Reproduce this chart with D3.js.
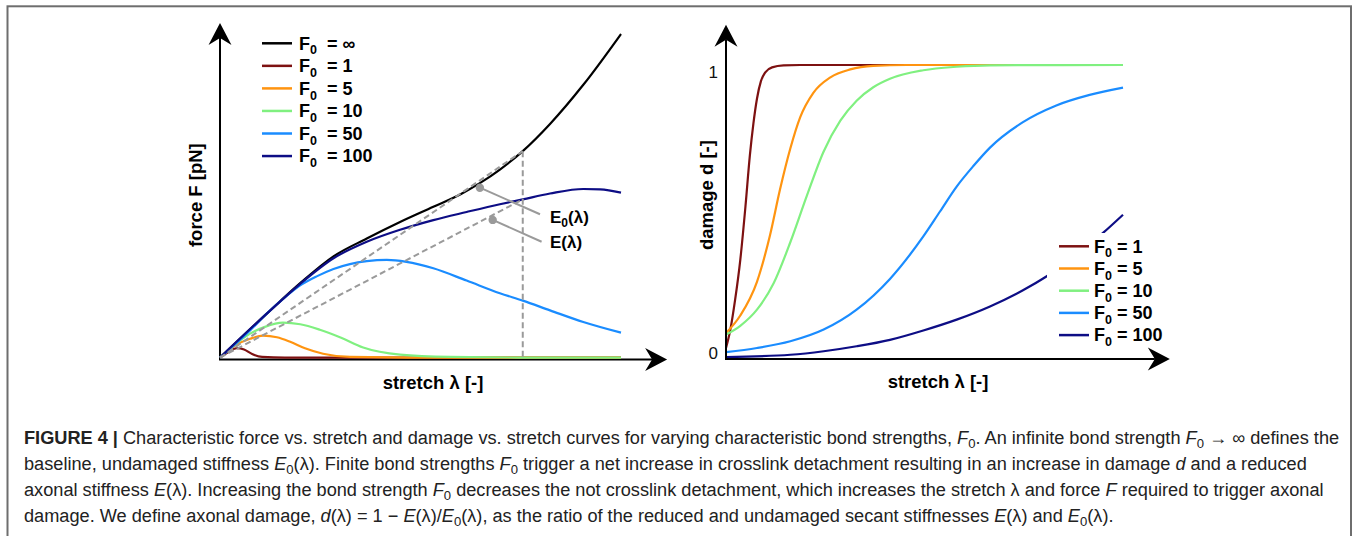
<!DOCTYPE html>
<html>
<head>
<meta charset="utf-8">
<script src="https://cdn.jsdelivr.net/npm/d3@7"></script>
<style>
  body { margin: 0; background: #fff; }
  svg { display: block; font-family: "Liberation Sans", Arial, Helvetica, sans-serif; }
</style>
</head>
<body>
<div id="figure"></div>
<script>
// ---- values (stretch and force normalised to 0..1) ----
const seriesLabels = ["∞", "1", "5", "10", "50", "100"];
const seriesColors = ["#000000", "#7d1111", "#ff9410", "#80f080", "#1a8cff", "#0d0d85"];

// force F vs stretch, [stretch, force]
const forceInf = [[0,0],[0.116,0.135],[0.2,0.23],[0.283,0.313],[0.366,0.368],[0.449,0.419],
                  [0.532,0.466],[0.6,0.505],[0.648,0.539],[0.698,0.581],[0.755,0.638],
                  [0.823,0.722],[0.906,0.843],[1,1]];
const force1   = [[0,0],[0.022,0.018],[0.042,0.029],[0.06,0.025],[0.08,0.011],[0.105,0.002],
                  [0.162,0],[1,0]];
const force5   = [[0,0],[0.037,0.037],[0.075,0.058],[0.107,0.068],[0.142,0.063],[0.175,0.049],
                  [0.212,0.029],[0.257,0.012],[0.324,0.002],[0.499,0],[1,0]];
const force10  = [[0,0],[0.037,0.04],[0.075,0.074],[0.112,0.095],[0.157,0.108],[0.2,0.103],
                  [0.249,0.086],[0.299,0.063],[0.357,0.031],[0.449,0.009],[0.574,0.002],
                  [0.748,0],[1,0]];
const force50  = [[0,0],[0.075,0.084],[0.116,0.135],[0.158,0.182],[0.2,0.223],[0.241,0.251],
                  [0.283,0.274],[0.324,0.289],[0.366,0.298],[0.416,0.302],[0.465,0.296],
                  [0.532,0.276],[0.615,0.238],[0.698,0.199],[0.755,0.176],[0.823,0.146],
                  [0.906,0.11],[1,0.077]];
const force100 = [[0,0],[0.116,0.135],[0.2,0.228],[0.283,0.307],[0.366,0.358],[0.449,0.395],
                  [0.532,0.425],[0.615,0.45],[0.698,0.474],[0.755,0.489],[0.823,0.507],
                  [0.906,0.521],[0.948,0.52],[1,0.51]];

// secant stiffnesses at one stretch
const secantStretch = 0.755;
const secantE0 = 0.638;
const secantE = 0.489;
const secantNotes = [
  {name: "E", sub: "0", dot: [0.648, 0.525], end: [0.798, 0.443], label: [0.823, 0.415]},
  {name: "E", sub: "",  dot: [0.68, 0.4255], end: [0.802, 0.358], label: [0.823, 0.338]}
];

// damage d vs stretch, [stretch, damage]
const damage1   = [[0,0.034],[0.011,0.097],[0.023,0.199],[0.036,0.335],[0.049,0.517],[0.06,0.69],
                   [0.069,0.8],[0.078,0.885],[0.088,0.945],[0.099,0.975],[0.116,0.992],
                   [0.145,0.999],[0.187,1],[1,1]];
const damage5   = [[0,0.085],[0.036,0.145],[0.078,0.26],[0.111,0.42],[0.136,0.575],[0.162,0.715],
                   [0.187,0.822],[0.22,0.905],[0.263,0.958],[0.313,0.985],[0.371,0.997],[0.455,1],[1,1]];
const damage10  = [[0,0.08],[0.036,0.11],[0.078,0.165],[0.12,0.255],[0.162,0.395],[0.204,0.555],
                   [0.246,0.705],[0.288,0.81],[0.329,0.878],[0.371,0.924],[0.413,0.953],
                   [0.497,0.982],[0.581,0.994],[0.665,0.999],[1,1]];
const damage50  = [[0,0.02],[0.078,0.034],[0.162,0.057],[0.246,0.097],[0.329,0.165],[0.413,0.27],
                   [0.497,0.415],[0.539,0.5],[0.581,0.585],[0.623,0.655],[0.665,0.718],
                   [0.748,0.805],[0.832,0.862],[0.916,0.898],[1,0.923]];
const damage100 = [[0,0.003],[0.162,0.011],[0.246,0.023],[0.329,0.04],[0.413,0.062],[0.497,0.094],
                   [0.581,0.131],[0.665,0.176],[0.748,0.231],[0.807,0.278],[0.949,0.426],[1,0.489]];
const damageTicks = [0, 1];

// caption, one array per printed line: [text, style]  b = bold, i = italic, s = subscript
const captionLines = [
  [["FIGURE 4 | ", "b"], ["Characteristic force vs. stretch and damage vs. stretch curves for varying characteristic bond strengths, ", ""],
   ["F", "i"], ["0", "s"], [". An infinite bond strength ", ""], ["F", "i"], ["0", "s"], [" → ∞ defines the", ""]],
  [["baseline, undamaged stiffness ", ""], ["E", "i"], ["0", "s"], ["(λ). Finite bond strengths ", ""], ["F", "i"], ["0", "s"],
   [" trigger a net increase in crosslink detachment resulting in an increase in damage ", ""], ["d", "i"], [" and a reduced", ""]],
  [["axonal stiffness ", ""], ["E", "i"], ["(λ). Increasing the bond strength ", ""], ["F", "i"], ["0", "s"],
   [" decreases the not crosslink detachment, which increases the stretch λ and force ", ""], ["F", "i"], [" required to trigger axonal", ""]],
  [["damage. We define axonal damage, ", ""], ["d", "i"], ["(λ) = 1 − ", ""], ["E", "i"], ["(λ)/", ""], ["E", "i"], ["0", "s"],
   ["(λ), as the ratio of the reduced and undamaged secant stiffnesses ", ""], ["E", "i"], ["(λ) and ", ""], ["E", "i"], ["0", "s"], ["(λ).", ""]]
];

// ---- drawing ----
const W = 1360, H = 536;
const svg = d3.select("#figure").append("svg")
              .attr("width", W)
              .attr("height", H);

// figure frame (runs off the bottom edge)
svg.append("rect")
   .attr("x", 7.5).attr("y", 6.3)
   .attr("width", 1343.5).attr("height", 560)
   .attr("fill", "none")
   .attr("stroke", "#6e6e6e")
   .attr("stroke-width", 2);

function arrowAxis(g, x1, y1, x2, y2) {
    const ang = Math.atan2(y2 - y1, x2 - x1);
    const ux = Math.cos(ang), uy = Math.sin(ang);
    const len = 22, half = 11.5, notch = 15;
    g.append("line")
     .attr("x1", x1).attr("y1", y1)
     .attr("x2", x2 - ux * notch).attr("y2", y2 - uy * notch)
     .attr("stroke", "black").attr("stroke-width", 2);
    const bx = x2 - ux * len, by = y2 - uy * len;
    const p = d3.path();
    p.moveTo(x2, y2);
    p.lineTo(bx - uy * half, by + ux * half);
    p.lineTo(x2 - ux * notch, y2 - uy * notch);
    p.lineTo(bx + uy * half, by - ux * half);
    p.closePath();
    g.append("path").attr("d", p.toString()).attr("fill", "black");
}

function addF0(text, value, gap) {
    text.append("tspan").text("F");
    text.append("tspan").attr("font-size", 12.5).attr("dy", 5).text("0");
    text.append("tspan").attr("dy", -5).text(gap + "= " + value);
}

// ---------- left: force vs stretch ----------
const xL = d3.scaleLinear().domain([0, 1]).range([220, 621]);
const yL = d3.scaleLinear().domain([0, 1]).range([357.6, 34]);
const axisYL = 359.4;
const left = svg.append("g");

const forceSeries = [forceInf, force1, force5, force10, force50, force100];

arrowAxis(left, xL(0), axisYL, xL(0), yL(1.034));
arrowAxis(left, xL(0) - 1, axisYL, xL(1.115), axisYL);

const lineL = d3.line()
                .x(d => xL(d[0]))
                .y(d => yL(d[1]))
                .curve(d3.curveMonotoneX);

forceSeries.forEach((s, i) => {
    left.append("path")
        .datum(s)
        .attr("fill", "none")
        .attr("stroke", seriesColors[i])
        .attr("stroke-width", 2.2)
        .attr("d", lineL);
});

// secants and vertical guide
const dash = "6,3.5";
[secantE0, secantE].forEach(v => {
    left.append("line")
        .attr("x1", xL(0)).attr("y1", yL(0))
        .attr("x2", xL(secantStretch)).attr("y2", yL(v))
        .attr("stroke", "#9a9a9a").attr("stroke-width", 2)
        .attr("stroke-dasharray", dash);
});
left.append("line")
    .attr("x1", xL(secantStretch)).attr("y1", yL(secantE0))
    .attr("x2", xL(secantStretch)).attr("y2", axisYL)
    .attr("stroke", "#9a9a9a").attr("stroke-width", 2)
    .attr("stroke-dasharray", dash);

secantNotes.forEach(n => {
    left.append("line")
        .attr("x1", xL(n.dot[0])).attr("y1", yL(n.dot[1]))
        .attr("x2", xL(n.end[0])).attr("y2", yL(n.end[1]))
        .attr("stroke", "#9a9a9a").attr("stroke-width", 2);
    left.append("circle")
        .attr("cx", xL(n.dot[0])).attr("cy", yL(n.dot[1]))
        .attr("r", 4.2)
        .attr("fill", "#9a9a9a");
    const t = left.append("text")
                  .attr("x", xL(n.label[0])).attr("y", yL(n.label[1]))
                  .attr("font-size", 17).attr("font-weight", "bold");
    t.append("tspan").text(n.name);
    if (n.sub) {
        t.append("tspan").attr("font-size", 12).attr("dy", 4).text(n.sub);
        t.append("tspan").attr("dy", -4).text("(λ)");
    } else {
        t.append("tspan").text("(λ)");
    }
});

left.append("text")
    .attr("transform", `translate(202,${yL(0.502)}) rotate(-90)`)
    .attr("text-anchor", "middle")
    .attr("font-size", 18.5).attr("font-weight", "bold")
    .text("force F [pN]");

left.append("text")
    .attr("x", 433).attr("y", 389)
    .attr("text-anchor", "middle")
    .attr("font-size", 18.5).attr("font-weight", "bold")
    .text("stretch λ [-]");

// legend
const legendL = left.append("g").attr("transform", "translate(262,43.3)");
seriesLabels.forEach((lab, i) => {
    legendL.append("line")
           .attr("x1", 0).attr("x2", 30)
           .attr("y1", i * 22.55).attr("y2", i * 22.55)
           .attr("stroke", seriesColors[i]).attr("stroke-width", 2.5);
    const t = legendL.append("text")
                     .attr("x", 37).attr("y", i * 22.55 + 6.2)
                     .attr("font-size", 18).attr("font-weight", "bold")
                     .style("white-space", "pre");
    addF0(t, lab, "  ");
});

// ---------- right: damage vs stretch ----------
const xR = d3.scaleLinear().domain([0, 1]).range([726, 1123]);
const yR = d3.scaleLinear().domain([0, 1]).range([358, 65]);
const right = svg.append("g");

const damageSeries = [damage1, damage5, damage10, damage50, damage100];

const lineR = d3.line()
                .x(d => xR(d[0]))
                .y(d => yR(d[1]))
                .curve(d3.curveMonotoneX);

damageSeries.forEach((s, i) => {
    right.append("path")
         .datum(s)
         .attr("fill", "none")
         .attr("stroke", seriesColors[i + 1])
         .attr("stroke-width", 2.2)
         .attr("d", lineR);
});

arrowAxis(right, xR(0), yR(0) + 1, xR(0), yR(1.137));
arrowAxis(right, xR(0) - 1, yR(0) + 1, xR(1.118), yR(0) + 1);

const yAxisR = right.append("g")
                    .attr("transform", `translate(${xR(0)},0)`)
                    .call(d3.axisLeft(yR).tickValues(damageTicks).tickSize(0).tickPadding(8).tickFormat(d3.format("d")));
yAxisR.select(".domain").remove();
yAxisR.selectAll("text")
      .attr("font-family", "Liberation Sans, Arial, sans-serif")
      .attr("font-size", 17)
      .attr("fill", "#111")
      .attr("dy", d => d === 1 ? "0.72em" : "0.05em");

right.append("text")
     .attr("transform", `translate(713,${yR(0.556)}) rotate(-90)`)
     .attr("text-anchor", "middle")
     .attr("font-size", 18.5).attr("font-weight", "bold")
     .text("damage d [-]");

right.append("text")
     .attr("x", 938).attr("y", 388)
     .attr("text-anchor", "middle")
     .attr("font-size", 18.5).attr("font-weight", "bold")
     .text("stretch λ [-]");

// legend with white backing (hides the F0 = 100 curve behind it)
right.append("rect")
     .attr("x", 1047).attr("y", 233)
     .attr("width", 130).attr("height", 112)
     .attr("fill", "white");
const legendR = right.append("g").attr("transform", "translate(1059,246.3)");
seriesLabels.slice(1).forEach((lab, i) => {
    legendR.append("line")
           .attr("x1", 0).attr("x2", 30)
           .attr("y1", i * 22.2).attr("y2", i * 22.2)
           .attr("stroke", seriesColors[i + 1]).attr("stroke-width", 2.5);
    const t = legendR.append("text")
                     .attr("x", 35).attr("y", i * 22.2 + 6.2)
                     .attr("font-size", 18).attr("font-weight", "bold")
                     .style("white-space", "pre");
    addF0(t, lab, " ");
});

// ---------- caption ----------
// all lines share one horizontal squeeze, set so the first line ends at the frame's inner edge
const capStart = 24, capEnd = 1340, capTop = 444, capStep = 26;
const capGroups = captionLines.map((segs, li) => {
    const g = svg.append("g");
    const t = g.append("text")
               .attr("x", 0).attr("y", 0)
               .attr("font-size", 18)
               .attr("fill", "#222")
               .style("white-space", "pre");
    let shifted = false;
    segs.forEach(([txt, st]) => {
        const sp = t.append("tspan").text(txt);
        if (st === "b") sp.attr("font-weight", "bold");
        if (st === "i") sp.attr("font-style", "italic");
        if (st === "s") {
            sp.attr("font-size", 13).attr("dy", 4);
            shifted = true;
        } else if (shifted) {
            sp.attr("dy", -4);
            shifted = false;
        }
    });
    return {g, len: t.node().getComputedTextLength()};
});
const k = (capEnd - capStart) / d3.max(capGroups, c => c.len);
capGroups.forEach((c, li) => {
    c.g.attr("transform", `translate(${capStart},${capTop + li * capStep}) scale(${k},1)`);
});
</script>
</body>
</html>
